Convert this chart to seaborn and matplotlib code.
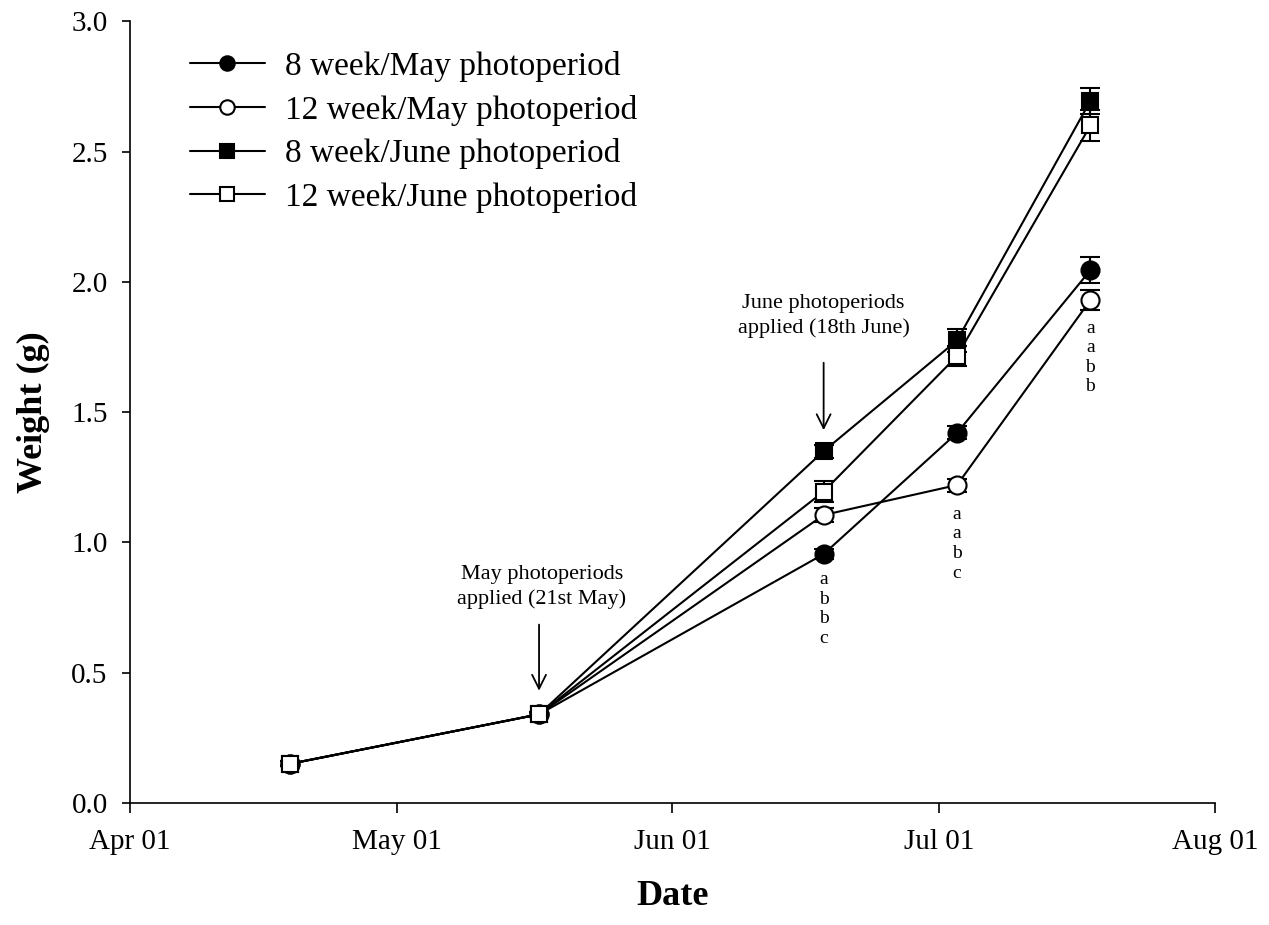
import pandas as pd
import numpy as np
import seaborn as sns
import matplotlib.pyplot as plt
import matplotlib.dates as mdates

# Sampling dates and mean weights (g) with standard errors
dates = pd.to_datetime(['2000-04-19', '2000-05-17', '2000-06-18', '2000-07-03', '2000-07-18'])
w_8may = [0.15, 0.34, 0.955, 1.42, 2.045]
w_12may = [0.15, 0.34, 1.105, 1.22, 1.93]
w_8jun = [0.15, 0.34, 1.35, 1.775, 2.695]
w_12jun = [0.15, 0.34, 1.195, 1.715, 2.60]
se_8may = [0.01, 0.01, 0.02, 0.025, 0.05]
se_12may = [0.01, 0.01, 0.025, 0.025, 0.04]
se_8jun = [0.01, 0.01, 0.025, 0.045, 0.05]
se_12jun = [0.01, 0.01, 0.04, 0.04, 0.06]
labels = ['8 week/May photoperiod', '12 week/May photoperiod',
          '8 week/June photoperiod', '12 week/June photoperiod']
letters_dates = pd.to_datetime(['2000-06-18', '2000-07-03', '2000-07-18'])
letters = ['a\nb\nb\nc', 'a\na\nb\nc', 'a\na\nb\nb']
letters_y = [0.89, 1.14, 1.855]

sns.set_style('ticks')
plt.rcParams['font.family'] = ['Liberation Serif', 'DejaVu Serif']
plt.rcParams.update({'text.color': 'black', 'axes.labelcolor': 'black',
                     'xtick.color': 'black', 'ytick.color': 'black', 'axes.edgecolor': 'black'})

fig = plt.figure(figsize=(12.69, 9.25), dpi=100)
ax = fig.add_axes([0.1024, 0.132, 0.855, 0.845])

series = [(w_8may, se_8may, 'o', 'black'), (w_12may, se_12may, 'o', 'white'),
          (w_8jun, se_8jun, 's', 'black'), (w_12jun, se_12jun, 's', 'white')]

for (w, se, m, fc), lab in zip(series, labels):
    df = pd.DataFrame({'date': dates, 'weight': w})
    ax.errorbar(df['date'], df['weight'], yerr=se, fmt='none', ecolor='black',
                elinewidth=1.5, capsize=7.5, capthick=1.5, zorder=2)
    sns.lineplot(data=df, x='date', y='weight', ax=ax, color='black', lw=1.5,
                 marker=m, markersize=13 if m == 'o' else 12, markerfacecolor=fc,
                 markeredgecolor='black', markeredgewidth=1.5, label=lab, zorder=3)

for d, t, y in zip(letters_dates, letters, letters_y):
    ax.text(d, y, t, ha='center', va='top', fontsize=14, linespacing=1.2)

ax.annotate('', xy=(pd.Timestamp('2000-05-17'), 0.42), xytext=(pd.Timestamp('2000-05-17'), 0.695),
            arrowprops=dict(arrowstyle='->', color='black', lw=1.3, mutation_scale=25))
ax.text(pd.Timestamp('2000-05-17 08:00'), 0.83, 'May photoperiods\napplied (21st May)',
        ha='center', va='center', fontsize=16, linespacing=1.35)
ax.annotate('', xy=(pd.Timestamp('2000-06-18'), 1.42), xytext=(pd.Timestamp('2000-06-18'), 1.70),
            arrowprops=dict(arrowstyle='->', color='black', lw=1.3, mutation_scale=25))
ax.text(pd.Timestamp('2000-06-18'), 1.87, 'June photoperiods\napplied (18th June)',
        ha='center', va='center', fontsize=16, linespacing=1.35)

ax.set_xlim(pd.Timestamp('2000-04-01'), pd.Timestamp('2000-08-01'))
ax.set_ylim(0, 3.0)
ax.set_yticks(np.arange(0, 3.01, 0.5))
ax.yaxis.set_major_formatter(plt.FormatStrFormatter('%.1f'))
ax.xaxis.set_major_locator(mdates.MonthLocator())
ax.xaxis.set_major_formatter(mdates.DateFormatter('%b %d'))
ax.tick_params(axis='both', labelsize=21, width=1.2, direction='out')
ax.tick_params(axis='x', length=7, pad=12)
ax.tick_params(axis='y', length=6, pad=10)
for s in ['left', 'bottom']:
    ax.spines[s].set_linewidth(1.2)
sns.despine(ax=ax)

ax.set_xlabel('Date', fontsize=26, fontweight='bold', labelpad=18)
ax.set_ylabel('Weight (g)', fontsize=26, fontweight='bold', labelpad=15)

ax.legend(loc='upper left', bbox_to_anchor=(0.055, 0.962), frameon=False, fontsize=24,
          handlelength=2.25, handletextpad=0.6, labelspacing=0.38, borderaxespad=0,
          borderpad=0, markerscale=0.8)

fig.savefig('out.png', dpi=100)
